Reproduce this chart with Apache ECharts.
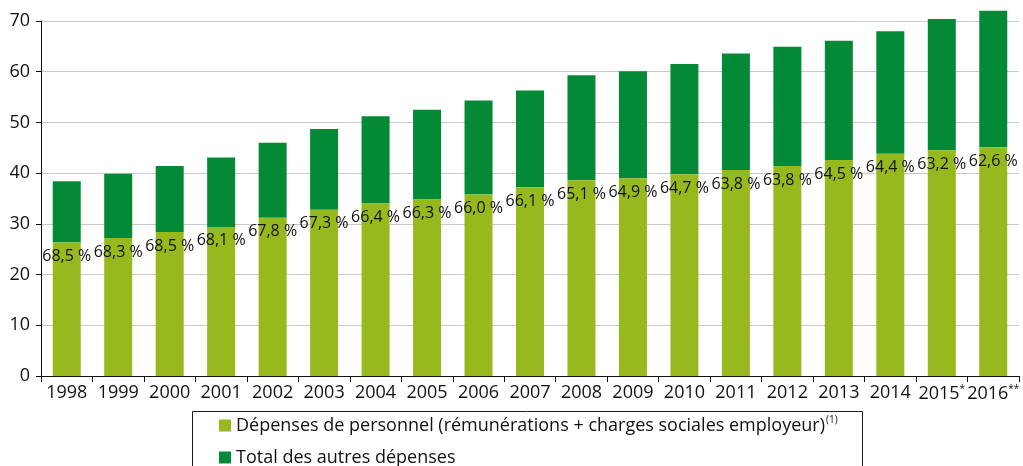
<!DOCTYPE html>
<html>
<head>
<meta charset="utf-8">
<script src="https://cdn.jsdelivr.net/npm/echarts@6/dist/echarts.min.js"></script>
<style>
  html, body { margin: 0; padding: 0; background: #ffffff; }
  #chart { width: 1023px; height: 466px; }
</style>
</head>
<body>
<div id="chart"></div>
<script>
// Years on the x axis (rich-text markers for the provisional years)
const years = ['1998','1999','2000','2001','2002','2003','2004','2005','2006','2007',
               '2008','2009','2010','2011','2012','2013','2014','2015{sup|*}','2016{sup|**}'];

// Personnel spending (salaries + employer social charges)
const personnel = [26.3, 27.2, 28.4, 29.4, 31.2, 32.8, 34.0, 34.8, 35.8, 37.2,
                   38.6, 39.0, 39.8, 40.6, 41.4, 42.6, 43.8, 44.5, 45.1];

// All other spending
const others = [12.1, 12.7, 13.0, 13.7, 14.8, 15.9, 17.2, 17.7, 18.5, 19.1,
                20.7, 21.1, 21.7, 23.0, 23.5, 23.5, 24.2, 25.9, 26.9];

// Share of personnel spending in the total
const shares = ['68,5 %','68,3 %','68,5 %','68,1 %','67,8 %','67,3 %','66,4 %','66,3 %','66,0 %','66,1 %',
                '65,1 %','64,9 %','64,7 %','63,8 %','63,8 %','64,5 %','64,4 %','63,2 %','62,6 %'];

// Y axis ticks
const yMin = 0, yMax = 70, yStep = 10;

const FONT = '"Open Sans", sans-serif';
const TEXT = '#111111';
const LIGHT = '#97b91e';
const DARK = '#048a36';

const chart = echarts.init(document.getElementById('chart'), null, { renderer: 'canvas' });

chart.setOption({
  animation: false,
  backgroundColor: '#ffffff',
  textStyle: { fontFamily: FONT, color: TEXT },
  grid: { left: 41, right: 4, top: 21, bottom: 90, containLabel: false },
  legend: {
    orient: 'vertical',
    left: 219,
    top: 415,
    height: 120,
    padding: 0,
    itemWidth: 12,
    itemHeight: 12,
    itemGap: 11,
    icon: 'rect',
    selectedMode: false,
    textStyle: {
      fontFamily: FONT, fontSize: 18, color: TEXT, lineHeight: 21,
      rich: { sup: { fontSize: 10, verticalAlign: 'top', lineHeight: 21, padding: [0, 0, 9, 1] } }
    },
    formatter: function (name) {
      return name === 'personnel'
        ? 'Dépenses de personnel (rémunérations + charges sociales employeur){sup|(1)}'
        : 'Total des autres dépenses';
    }
  },
  graphic: [{
    type: 'rect',
    shape: { x: 192.5, y: 411.5, width: 670, height: 80 },
    style: { fill: 'none', stroke: '#1a1a1a', lineWidth: 1 },
    silent: true,
    z: -1
  }],
  xAxis: {
    type: 'category',
    data: years,
    boundaryGap: true,
    axisLine: { lineStyle: { color: TEXT, width: 1 } },
    axisTick: { show: true, length: 6, alignWithLabel: false, lineStyle: { color: TEXT } },
    axisLabel: {
      fontFamily: FONT, fontSize: 18, color: TEXT, margin: 8, interval: 0,
      rich: { sup: { fontSize: 10, verticalAlign: 'top', padding: [0, 0, 9, 0] } }
    },
    splitLine: { show: false }
  },
  yAxis: {
    type: 'value',
    min: yMin,
    max: yMax,
    interval: yStep,
    axisLine: { show: true, lineStyle: { color: TEXT, width: 1 } },
    axisTick: { show: true, length: 5, lineStyle: { color: TEXT } },
    axisLabel: { fontFamily: FONT, fontSize: 18, color: TEXT, margin: 11 },
    splitLine: { show: true, lineStyle: { color: '#c9c9c9', width: 1 } }
  },
  series: [
    {
      name: 'personnel',
      type: 'bar',
      stack: 'total',
      barWidth: 28,
      clip: false,
      itemStyle: { color: LIGHT },
      data: personnel,
      label: {
        show: true,
        position: 'insideTop',
        distance: 6,
        fontFamily: FONT,
        fontSize: 16,
        color: TEXT,
        formatter: function (p) { return shares[p.dataIndex]; }
      },
      z: 3
    },
    {
      name: 'autres',
      type: 'bar',
      stack: 'total',
      barWidth: 28,
      clip: false,
      itemStyle: { color: DARK },
      data: others,
      z: 2
    }
  ]
});
</script>
</body>
</html>
